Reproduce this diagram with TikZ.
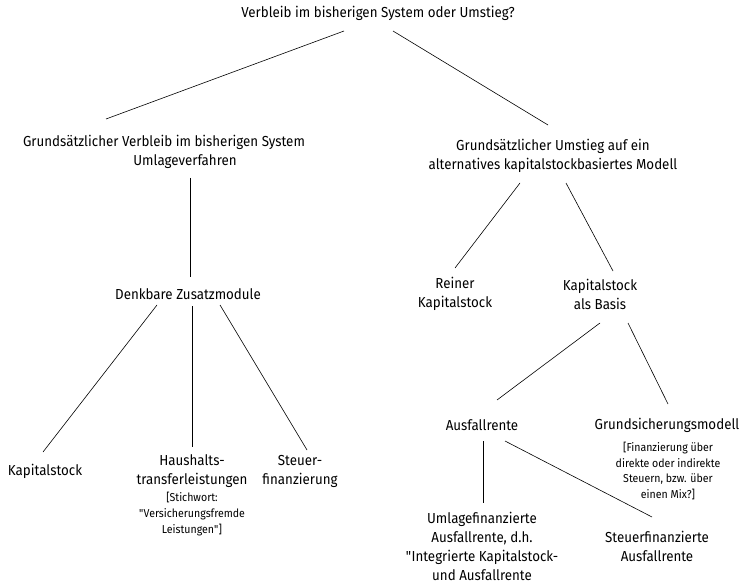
\documentclass[tikz,border=0pt]{standalone}
\usepackage{fontspec}
\setmainfont[FakeStretch=0.92]{Fira Sans}
\usetikzlibrary{calc}
\tikzset{
	box/.style={align=center, inner sep=0pt, font=\fontsize{14.5}{19}\selectfont},
	note/.style={align=center, inner sep=0pt, font=\fontsize{11.5}{15.8}\selectfont},
	link/.style={line width=0.6pt}
}

\begin{document}
\begin{tikzpicture}[x=1pt, y=-1pt]
			%%%%% START %%%%%
			\useasboundingbox (0, 0) rectangle (740, 583);
			
			% Kopf
			\node[box] (frage) at (378, 13) {Verbleib im bisherigen System oder Umstieg?};
			
			% linker Ast
			\node[box] (verbleib) at (164, 152) {Grundsätzlicher Verbleib im bisherigen System\\\hspace*{42pt}Umlageverfahren};
			\node[box] (zusatz) at (188, 294) {Denkbare Zusatzmodule};
			\node[box] (kapital) at (45, 471) {Kapitalstock};
			\node[box] (haushalt) at (192, 471) {Haushalts-\\transferleistungen};
			\node[note] (haushaltnote) at (192, 514) {[Stichwort:\\\textquotedbl Versicherungsfremde\\Leistungen\textquotedbl]};
			\node[box] (steuer) at (300, 471) {Steuer-\\finanzierung};
			
			% rechter Ast
			\node[box] (umstieg) at (553, 156) {Grundsätzlicher Umstieg auf ein\\alternatives kapitalstockbasiertes Modell};
			\node[box] (rein) at (455, 294) {Reiner\\Kapitalstock};
			\node[box] (basis) at (600, 294) {Kapitalstock\\als Basis};
			\node[box] (ausfall) at (482, 425) {Ausfallrente};
			\node[box] (grund) at (667, 425) {Grundsicherungsmodell};
			\node[note] (grundnote) at (668, 471) {[Finanzierung über\\direkte oder indirekte\\Steuern, bzw. über\\einen Mix?]};
			\node[box] (umlage) at (482, 546) {Umlagefinanzierte\\Ausfallrente, d.h.\\\textquotedbl Integrierte Kapitalstock-\\und Ausfallrente};
			\node[box] (steuerfin) at (657, 546) {Steuerfinanzierte\\Ausfallrente};
			
			% Verbindungen
			\draw[link] ($(frage)+(-34, 18)$) -- ($(verbleib)+(-58, -33)$);
			\draw[link] ($(frage)+(15, 18)$) -- ($(umstieg)+(-5, -31)$);
			\draw[link] ($(verbleib)+(26, 26)$) -- ($(zusatz)+(2, -17)$);
			\draw[link] ($(zusatz)+(-31, 11)$) -- ($(kapital)+(-2, -19)$);
			\draw[link] ($(zusatz)+(4, 12)$) -- ($(haushalt)+(0, -24)$);
			\draw[link] ($(zusatz)+(32, 11)$) -- ($(steuer)+(7, -21)$);
			\draw[link] ($(umstieg)+(-33, 27)$) -- ($(rein)+(0, -26)$);
			\draw[link] ($(umstieg)+(13, 27)$) -- ($(basis)+(13, -23)$);
			\draw[link] ($(basis)+(0, 29)$) -- ($(ausfall)+(15, -25)$);
			\draw[link] ($(basis)+(28, 29)$) -- ($(grund)+(1, -21)$);
			\draw[link] ($(ausfall)+(1, 16)$) -- ($(umlage)+(1, -43)$);
			\draw[link] ($(ausfall)+(23, 16)$) -- ($(steuerfin)+(-5, -29)$);
			
			%%%%% END %%%%%
\end{tikzpicture}
\end{document}
